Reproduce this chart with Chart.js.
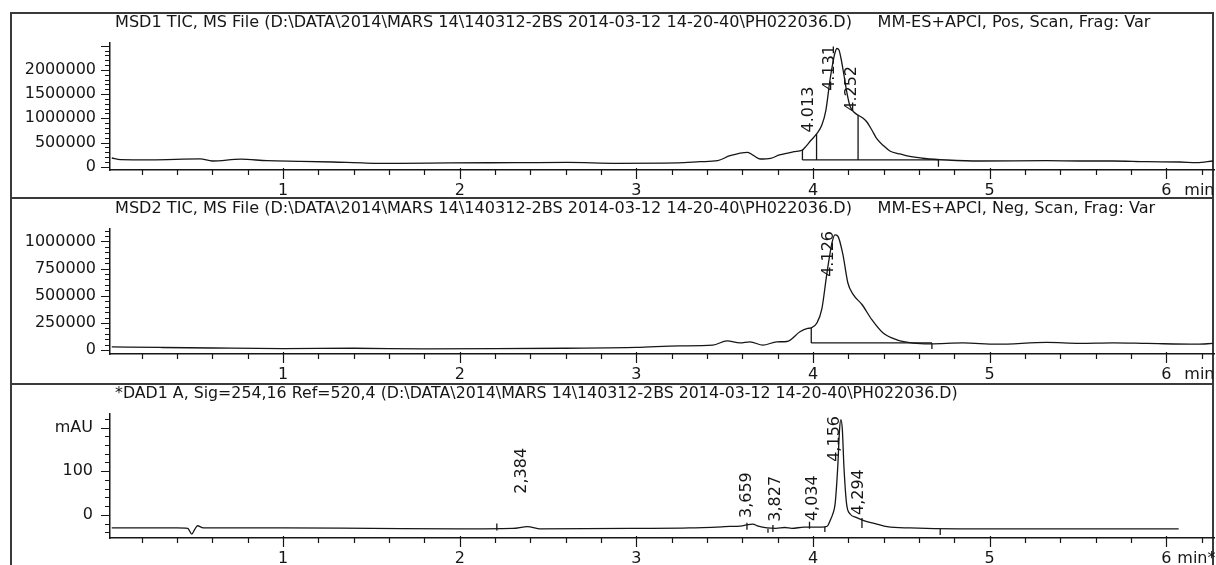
<!DOCTYPE html>
<html>
<head>
<meta charset="utf-8">
<script src="https://cdn.jsdelivr.net/npm/chart.js@4.4.1/dist/chart.umd.min.js"></script>
<style>
    body { margin: 0; background: #fff; width: 1216px; height: 565px; overflow: hidden; position: relative; }
    canvas { position: absolute; left: 0; }
    .frame { position: absolute; left: 10px; top: 12px; width: 1204px; height: 600px; border: 2px solid #3a3a3a; box-sizing: border-box; }
    .sep { position: absolute; left: 10px; width: 1204px; height: 2px; background: #3a3a3a; }
</style>
</head>
<body>
<div class="frame"></div>
<div class="sep" style="top:197px"></div>
<div class="sep" style="top:383px"></div>
<canvas id="msd1" width="1216" height="185" style="top:13px"></canvas>
<canvas id="msd2" width="1216" height="186" style="top:198px"></canvas>
<canvas id="dad1" width="1216" height="181" style="top:384px"></canvas>
<script>
// time axis (min) shared by the three traces
const X_MIN = 0.02, X_MAX = 6.27;

// MSD1 TIC, positive scan
const MSD1_TIME = [0.03,0.08,0.25,0.53,0.6,0.76,0.91,1.1,1.28,1.47,1.66,1.95,2.32,2.61,2.89,3.27,3.36,3.46,3.53,3.63,3.66,3.7,3.76,3.81,3.89,3.94,3.95,3.99,4.02,4.05,4.073,4.096,4.113,4.124,4.135,4.147,4.158,4.175,4.192,4.209,4.231,4.254,4.282,4.305,4.333,4.362,4.401,4.435,4.492,4.548,4.633,4.758,4.945,5.324,5.51,5.697,5.89,6.077,6.173,6.264];
const MSD1_TIC = [180000,145000,140000,160000,118000,155000,124000,112000,97000,76000,70000,80000,83000,90000,70000,83000,103000,124000,227000,297000,240000,159000,174000,242000,310000,345000,380000,552000,676000,862000,1171000,1791000,2163000,2349000,2442000,2411000,2246000,1895000,1523000,1254000,1130000,1068000,1006000,924000,759000,573000,428000,325000,263000,212000,170000,139000,118000,124000,118000,118000,103000,97000,83000,118000];
const MSD1_PEAKS = [4.013, 4.131, 4.252];
const MSD1_BASELINES = [[3.94, 4.71, 140000]];
const MSD1_DROPS = [[3.94, 140000, 350000], [4.02, 140000, 676000], [4.255, 140000, 1068000], [4.71, 0, 140000]];

// MSD2 TIC, negative scan
const MSD2_TIME = [0.03,0.3,0.6,1.0,1.4,1.8,2.2,2.6,3.0,3.246,3.433,3.513,3.586,3.643,3.716,3.795,3.852,3.926,3.97,3.988,4.022,4.05,4.078,4.107,4.124,4.14,4.169,4.197,4.226,4.277,4.333,4.395,4.475,4.566,4.662,4.849,5.04,5.324,5.51,5.697,5.89,6.173,6.264];
const MSD2_TIC = [30000,25000,20000,15000,18000,12000,14000,18000,25000,40000,46000,86000,67000,77000,46000,77000,80000,169000,200000,205000,250000,380000,700000,985000,1060000,1050000,880000,620000,515000,420000,280000,160000,95000,65000,58000,67000,55000,71000,62000,67000,62000,55000,62000];
const MSD2_PEAKS = [4.126];
const MSD2_BASELINES = [[3.99, 4.673, 67000]];
const MSD2_DROPS = [[3.99, 67000, 205000], [4.673, 12000, 67000]];

// DAD1 A, 254 nm
const DAD_TIME = [0.03,0.4,0.46,0.483,0.5,0.515,0.54,0.56,1.0,1.5,2.0,2.3,2.384,2.45,3.0,3.3,3.5,3.6,3.659,3.69,3.74,3.79,3.84,3.88,3.95,4.05,4.08,4.1,4.11,4.125,4.14,4.15,4.158,4.166,4.175,4.19,4.21,4.24,4.28,4.3,4.34,4.42,4.55,4.83,5.5,6.07];
const DAD_MAU = [-30,-30,-31,-44,-33,-25,-29,-30,-30,-31,-32,-31,-27,-32,-31,-30,-27,-25,-21,-26,-30,-31,-29,-31,-28,-28,-26,-10,0,25,110,195,218,195,110,25,2,-5,-12,-15,-19,-27,-30,-32,-32,-32];
const DAD_PEAKS = [2.384, 3.659, 3.827, 4.034, 4.156, 4.294];
const DAD_BASELINES = [];
const DAD_DROPS = [[2.21, -36, -20], [3.626, -34, -18], [3.745, -41, -32], [3.773, -39, -23], [3.98, -32, -16], [4.067, -39, -27], [4.277, -30, -7], [4.72, -46, -32]];

const INK = '#161616';
const FAMILY = '"DejaVu Sans"';
Chart.defaults.font.family = FAMILY;
Chart.defaults.font.size = 16;
Chart.defaults.color = INK;

const isMajor = (v, step) => Math.abs(v / step - Math.round(v / step)) < 1e-6;

const valueAt = (time, vals, t) => {
    const i = time.findIndex(v => v >= t);
    if (i <= 0) return vals[Math.max(i, 0)];
    const f = (t - time[i - 1]) / (time[i] - time[i - 1]);
    return vals[i - 1] + f * (vals[i] - vals[i - 1]);
};

// integration baselines + drop lines, one dataset broken by null gaps
const segments = (baselines, drops) => {
    const pts = [];
    baselines.forEach(([t0, t1, v]) => pts.push({ x: t0, y: v }, { x: t1, y: v }, { x: t1, y: null }));
    drops.forEach(([t, v0, v1]) => pts.push({ x: t, y: v0 }, { x: t, y: v1 }, { x: t, y: null }));
    return pts;
};

// minor ticks on exact multiples of the step (chart.js snaps big steps to min/max otherwise)
const stepTicks = step => s => {
    const ticks = [];
    for (let k = Math.ceil(s.min / step); k * step <= s.max; k++) ticks.push({ value: k * step });
    s.ticks = ticks;
};

const decor = cfg => ({
    id: 'decor',
    afterDraw(chart) {
        const { ctx, chartArea: a, scales: { x, y } } = chart;
        ctx.save();
        ctx.strokeStyle = INK;
        ctx.lineWidth = 1.2;
        ctx.beginPath();
        x.ticks.forEach(tk => {
            const p = Math.round(x.getPixelForValue(tk.value)) + 0.5;
            const major = isMajor(tk.value, 1);
            ctx.moveTo(p, a.bottom - (major ? 2 : 0));
            ctx.lineTo(p, a.bottom + (major ? 9 : 5));
        });
        y.ticks.forEach(tk => {
            const p = Math.round(y.getPixelForValue(tk.value)) + 0.5;
            ctx.moveTo(a.left - (isMajor(tk.value, cfg.major) ? 9 : 5), p);
            ctx.lineTo(a.left, p);
        });
        ctx.stroke();

        ctx.fillStyle = INK;
        ctx.font = '16px ' + FAMILY;
        ctx.textBaseline = 'middle';
        ctx.textAlign = 'right';
        y.ticks.forEach(tk => {
            if (isMajor(tk.value, cfg.major)) ctx.fillText(cfg.label(tk.value), a.left - cfg.labelGap, y.getPixelForValue(tk.value));
        });
        ctx.textAlign = 'left';
        ctx.fillText(cfg.unit, x.getPixelForValue(6) + cfg.unitDx, a.bottom + cfg.xPad + 9.6);
        ctx.font = cfg.titleSize + 'px ' + FAMILY;
        ctx.fillText(cfg.title, a.left + 5, cfg.titleY);

        ctx.font = '16px ' + FAMILY;
        ctx.textBaseline = 'alphabetic';
        cfg.peaks.forEach(t => {
            const text = cfg.fmt(t);
            const w = ctx.measureText(text).width;
            let start = y.getPixelForValue(valueAt(cfg.time, cfg.values, t)) - cfg.peakGap - (cfg.lift[t] || 0);
            if (start - w < a.top + 2) start = a.top + 2 + w;
            ctx.save();
            ctx.translate(x.getPixelForValue(t) - 2, start);
            ctx.rotate(-Math.PI / 2);
            ctx.fillText(text, 0, 0);
            ctx.restore();
        });
        ctx.restore();
    }
});

const panel = (id, cfg) => new Chart(document.getElementById(id), {
    type: 'line',
    data: {
        datasets: [
            { data: cfg.time.map((t, i) => ({ x: t, y: cfg.values[i] })), borderColor: INK, borderWidth: 1.3, pointRadius: 0, cubicInterpolationMode: 'monotone' },
            { data: segments(cfg.baselines, cfg.drops), borderColor: INK, borderWidth: 1.3, pointRadius: 0, spanGaps: false }
        ]
    },
    options: {
        responsive: false, animation: false, events: [],
        layout: { padding: { top: cfg.top, right: 2, left: 0, bottom: 0 } },
        plugins: { legend: { display: false }, tooltip: { enabled: false } },
        scales: {
            x: {
                type: 'linear', min: X_MIN, max: X_MAX,
                grid: { display: false, drawTicks: false },
                border: { color: INK, width: 1.5 },
                ticks: { stepSize: 0.2, includeBounds: false, autoSkip: false, maxRotation: 0, padding: cfg.xPad,
                    callback: v => isMajor(v, 1) ? String(Math.round(v)) : '' },
                afterFit: s => { s.height = cfg.xAxisH; }
            },
            y: {
                min: cfg.yMin, max: cfg.yMax,
                grid: { display: false, drawTicks: false },
                border: { color: INK, width: 1.5 },
                ticks: { autoSkip: false, display: false },
                afterBuildTicks: stepTicks(cfg.minor),
                afterFit: s => { s.width = 110; }
            }
        }
    },
    plugins: [decor(cfg)]
});

panel('msd1', {
    time: MSD1_TIME, values: MSD1_TIC, peaks: MSD1_PEAKS, baselines: MSD1_BASELINES, drops: MSD1_DROPS,
    title: 'MSD1 TIC, MS File (D:\\DATA\\2014\\MARS 14\\140312-2BS 2014-03-12 14-20-40\\PH022036.D)     MM-ES+APCI, Pos, Scan, Frag: Var',
    titleSize: 16.1, titleY: 10, top: 30, xAxisH: 28, xPad: 11, unit: 'min', unitDx: 18,
    yMin: -68000, yMax: 2556000, minor: 100000, major: 500000, labelGap: 14,
    label: v => v <= 2000000 ? String(v) : '',
    fmt: t => t.toFixed(3), peakGap: 3, lift: {}
});

panel('msd2', {
    time: MSD2_TIME, values: MSD2_TIC, peaks: MSD2_PEAKS, baselines: MSD2_BASELINES, drops: MSD2_DROPS,
    title: 'MSD2 TIC, MS File (D:\\DATA\\2014\\MARS 14\\140312-2BS 2014-03-12 14-20-40\\PH022036.D)     MM-ES+APCI, Neg, Scan, Frag: Var',
    titleSize: 16.1, titleY: 11, top: 31, xAxisH: 30, xPad: 11, unit: 'min', unitDx: 18,
    yMin: -35000, yMax: 1114000, minor: 50000, major: 250000, labelGap: 14,
    label: v => String(v),
    fmt: t => t.toFixed(3), peakGap: 4, lift: {}
});

panel('dad1', {
    time: DAD_TIME, values: DAD_MAU, peaks: DAD_PEAKS, baselines: DAD_BASELINES, drops: DAD_DROPS,
    title: '*DAD1 A, Sig=254,16 Ref=520,4 (D:\\DATA\\2014\\MARS 14\\140312-2BS 2014-03-12 14-20-40\\PH022036.D)',
    titleSize: 15.8, titleY: 10, top: 30, xAxisH: 27, xPad: 11, unit: 'min*', unitDx: 11,
    yMin: -53, yMax: 231, minor: 20, major: 100, labelGap: 17,
    label: v => v === 200 ? 'mAU' : String(v),
    fmt: t => t.toFixed(3).replace('.', ','), peakGap: 6, lift: { 2.384: 27 }
});
</script>
</body>
</html>
